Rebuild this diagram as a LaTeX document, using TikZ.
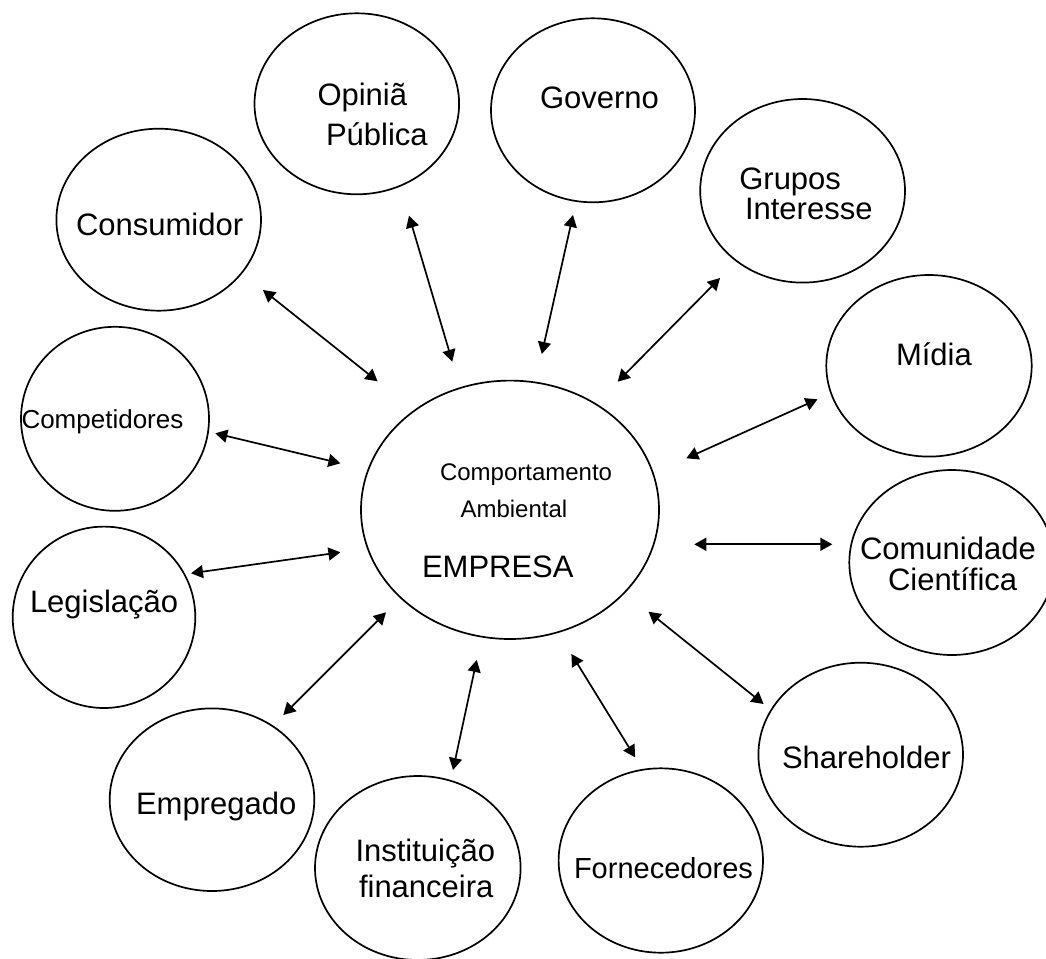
\documentclass[tikz,border=0pt]{standalone}
\usepackage{fontspec}
\setmainfont{Liberation Sans}
\usetikzlibrary{shapes.geometric,arrows.meta}
\tikzset{
  oval/.style={draw, ellipse, line width=1.7pt, inner sep=0pt, outer sep=0pt},
  lbl/.style={anchor=base west, inner sep=0pt, outer sep=0pt, font=\fontsize{31}{31}\selectfont},
  lblmid/.style={lbl, font=\fontsize{29}{29}\selectfont},
  lblsmall/.style={lbl, font=\fontsize{26}{26}\selectfont},
  lbltiny/.style={lbl, font=\fontsize{24}{24}\selectfont},
  link/.style={{Triangle[length=12pt,width=13pt]}-{Triangle[length=12pt,width=13pt]}, line width=1.7pt}
}
\begin{document}
\begin{tikzpicture}[x=1pt,y=-1pt]
\useasboundingbox (0,0) rectangle (1046,958);
\clip (0,0) rectangle (1046,958);
% ellipses
\node[oval, minimum width=204.6pt, minimum height=182pt] (cons) at (158.7,219.7) {};
\node[oval, minimum width=204.6pt, minimum height=181pt] (opin) at (356.8,103.8) {};
\node[oval, minimum width=204pt, minimum height=184pt] (gov) at (593,110.3) {};
\node[oval, minimum width=204.8pt, minimum height=183.6pt] (grup) at (802.6,190.8) {};
\node[oval, minimum width=205.4pt, minimum height=181.6pt] (midia) at (929,365.8) {};
\node[oval, minimum width=205pt, minimum height=185pt] (comun) at (951.8,562.5) {};
\node[oval, minimum width=204.6pt, minimum height=184pt] (share) at (860.7,754.7) {};
\node[oval, minimum width=204.4pt, minimum height=184.4pt] (forn) at (660.8,860.5) {};
\node[oval, minimum width=205.6pt, minimum height=184pt] (inst) at (417.8,868) {};
\node[oval, minimum width=204.6pt, minimum height=182.6pt] (empr) at (212,799.7) {};
\node[oval, minimum width=182.6pt, minimum height=181.4pt] (legis) at (104,617.3) {};
\node[oval, minimum width=188pt, minimum height=184pt] (compet) at (115,418.8) {};
\node[oval, minimum width=298pt, minimum height=258.4pt] (empresa) at (510,509.8) {};
% labels
\node[lbl] (consT) at (76,235) {Consumidor};
\node[lbl] (opinT1) at (317.5,105) {Opiniã};
\node[lbl] (opinT2) at (326,145) {Pública};
\node[lbl] (govT) at (540,108) {Governo};
\node[lbl] (grupT1) at (739.3,189) {Grupos};
\node[lbl] (grupT2) at (745,219.5) {Interesse};
\node[lbl] (midiaT) at (896,365) {Mídia};
\node[lbl] (comunT1) at (860,559) {Comunidade};
\node[lbl] (comunT2) at (888,590) {Científica};
\node[lbl] (shareT) at (782,768) {Shareholder};
\node[lblmid] (fornT) at (574,878) {Fornecedores};
\node[lbl] (instT1) at (355.5,861.7) {Instituição};
\node[lbl] (instT2) at (359,897.7) {financeira};
\node[lbl] (emprT) at (136,814) {Empregado};
\node[lbl] (legisT) at (30,612) {Legislação};
\node[lblsmall] (competT) at (21.5,428) {Competidores};
\node[lbltiny] (compT1) at (440,480.7) {Comportamento};
\node[lbltiny] (compT2) at (460.5,517) {Ambiental};
\node[lbl] (empresaT) at (422,577) {EMPRESA};
% arrow end points
\coordinate (a1) at (263,290);     \coordinate (b1) at (377.6,381.3);
\coordinate (a2) at (409,215.7);   \coordinate (b2) at (452.3,361.7);
\coordinate (a3) at (573,215);     \coordinate (b3) at (541.8,354);
\coordinate (a4) at (720,278);     \coordinate (b4) at (617.7,381.7);
\coordinate (a5) at (817.5,399.3); \coordinate (b5) at (686.3,458.3);
\coordinate (a6) at (832.3,544.3); \coordinate (b6) at (694.3,544.3);
\coordinate (a7) at (763.6,704);   \coordinate (b7) at (648.5,611.7);
\coordinate (a8) at (635.1,757.3); \coordinate (b8) at (571.4,654);
\coordinate (a9) at (453,770);     \coordinate (b9) at (476.7,660);
\coordinate (a10) at (283.3,715);  \coordinate (b10) at (386,612.3);
\coordinate (a11) at (191,573.3);  \coordinate (b11) at (340.4,552.3);
\coordinate (a12) at (215.3,433.3);\coordinate (b12) at (340.4,463.3);
\foreach \i in {1,...,12} { \draw[link] (a\i) -- (b\i); }
\end{tikzpicture}
\end{document}
